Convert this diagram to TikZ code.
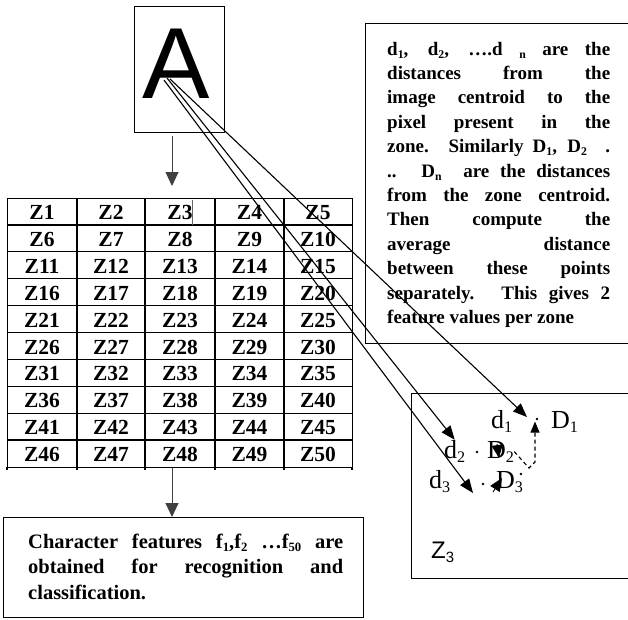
\documentclass[tikz,border=0pt]{standalone}
\usepackage{fontspec}
\setmainfont{Liberation Serif}
\newfontfamily\arialfont{Liberation Sans}
\usetikzlibrary{arrows.meta,calc}
\newcommand\mysub[1]{\raisebox{-0.35ex}{\scalebox{0.62}{#1}}}
\begin{document}
\begin{tikzpicture}[x=1pt,y=-1pt,
  box/.style={draw, line width=1.1pt, inner sep=0pt, anchor=north west},
  arr/.style={draw=black!75, line width=0.9pt, -{Triangle[length=14pt,width=13pt]}},
  ptr/.style={line width=1.1pt, -{Triangle[length=14pt,width=11pt]}},
  tip/.style={line width=0.9pt, -{Triangle[length=13pt,width=11pt]}},
  cell/.style={anchor=base, inner sep=0pt, font=\fontsize{21.5}{24}\selectfont\bfseries},
  lab/.style={anchor=base west, inner sep=0pt, font=\fontsize{26}{28}\selectfont},
  dotp/.style={circle, fill, inner sep=0pt, minimum size=2.6pt}]
\useasboundingbox (0,0) rectangle (628,619);
\fill[white] (0,0) rectangle (628,619);

% image of A
\node[box, minimum width=90pt, minimum height=126pt] (abox) at (134,6) {};
\node[anchor=base, inner sep=0pt, font=\arialfont\fontsize{101}{101}\selectfont] (aletter) at (176,98) {A};

% zone table
\node[box, line width=1.3pt, minimum width=345pt, minimum height=269pt] (tbl) at (7,198) {};
\foreach \x in {77,145,215,284} \draw[line width=1.3pt] (\x,198) -- (\x,470);
\draw[line width=1.3pt] (7,467) -- (7,470) (352,467) -- (352,470);
\foreach \k in {1,...,9} \draw[line width=1.3pt] (7,{198+26.9*\k}) -- (352,{198+26.9*\k});
\foreach \r in {0,...,9} {
  \foreach \cx [count=\c from 1] in {42,111,180,249.5,318} {
    \pgfmathtruncatemacro\n{5*\r+\c}
    \node[cell] (z\n) at (\cx,{198+26.9*\r+21.5}) {Z\n};
  }
}
\draw[line width=0.6pt, black!60] (192,200) -- (192,225);

% vertical arrows
\coordinate (ax) at (172,0);
\draw[arr, shorten <=3pt, shorten >=12pt] (abox.south -| ax) -- (tbl.north -| ax);

% result box
\node[box, minimum width=360pt, minimum height=100pt] (res) at (3,517) {};
\draw[arr] (tbl.south -| ax) -- (res.north -| ax);
\node[anchor=base west, inner sep=0pt] (restext) at (28,548) {\parbox[t]{315pt}{\fontsize{20.5}{25.5}\selectfont\bfseries Character features f\mysub{1},f\mysub{2} …f\mysub{50} are\linebreak obtained for recognition and\linebreak classification.}};

% description box
\node[box, minimum width=280pt, minimum height=320pt] (desc) at (365,23) {};
\node[anchor=base west, inner sep=0pt] (desctext) at (387,55) {\parbox[t]{223pt}{\fontsize{19}{24.4}\selectfont\bfseries d\mysub{1}, d\mysub{2}, ….d \mysub{n} are the\linebreak distances from the\linebreak image centroid to the\linebreak pixel present in the\linebreak zone. Similarly D\mysub{1}, D\mysub{2} \ .\linebreak .. D\mysub{n} \ are the distances\linebreak from the zone centroid.\linebreak Then compute the\linebreak average distance\linebreak between these points\linebreak separately. This gives 2\linebreak feature values per zone}};

% zone Z3 detail
\node[box, minimum width=230pt, minimum height=185pt] (zbox) at (411,393) {};
\node[anchor=base west, inner sep=0pt, font=\arialfont\fontsize{24}{24}\selectfont] (zlab) at (431,558) {Z\mysub{3}};
\node[lab] (d1) at (491,428) {d\mysub{1}};
\node[lab] (D1) at (551,428) {D\mysub{1}};
\node[lab] (d2) at (444,458) {d\mysub{2}};
\node[lab] (D2) at (487,458) {D\mysub{2}};
\node[lab] (d3) at (429,488) {d\mysub{3}};
\node[lab] (D3) at (496,488) {D\mysub{3}};
\node[dotp] (p1) at (537,419) {};
\node[dotp] (p2) at (477,452) {};
\node[dotp] (p3) at (483,484) {};
\node[dotp] (p4) at (521,474) {};

% connectors from the image centroid
\coordinate (c1) at (170,79);
\coordinate (c2) at (167,78);
\coordinate (c3) at (164,80);
\coordinate (t1) at (527,417);
\coordinate (t3) at (473,493);
\draw[ptr] (c1) -- (t1);
\draw[ptr] (c2) -- (d2.north);
\draw[ptr] (c3) -- (t3);

% zone centroid marks
\coordinate (q1) at (529,468);
\coordinate (q2) at (535,462);
\draw[line width=1.1pt, dash pattern=on 4pt off 3pt, -{Triangle[length=11pt,width=9pt]}] (D2.east) -- (q1) -- (q2) -- (D1.west -| q2);
\coordinate (u1) at (497,444);
\coordinate (u2) at (499,458);
\draw[tip] (u1) -- (u2);
\coordinate (v1) at (493,492);
\coordinate (v2) at (502,478);
\draw[tip] (v1) -- (v2);
\end{tikzpicture}
\end{document}
